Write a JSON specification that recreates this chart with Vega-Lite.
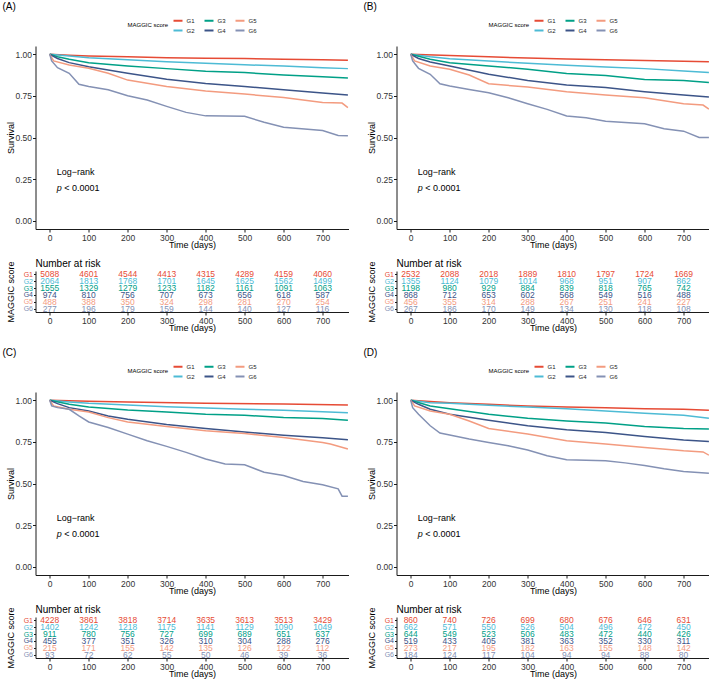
{
"$schema":"https://vega.github.io/schema/vega-lite/v6.json",
"padding":{"left":2.5,"top":2,"right":0,"bottom":0},
"datasets":{
"km":[
{"p":"A","g":"G1","t":0,"s":1},{"p":"A","g":"G1","t":50,"s":0.995},{"p":"A","g":"G1","t":100,"s":0.99},{"p":"A","g":"G1","t":200,"s":0.985},{"p":"A","g":"G1","t":300,"s":0.98},{"p":"A","g":"G1","t":400,"s":0.977},{"p":"A","g":"G1","t":500,"s":0.975},{"p":"A","g":"G1","t":600,"s":0.971},{"p":"A","g":"G1","t":700,"s":0.968},{"p":"A","g":"G1","t":765,"s":0.965},
{"p":"A","g":"G2","t":0,"s":1},{"p":"A","g":"G2","t":50,"s":0.99},{"p":"A","g":"G2","t":100,"s":0.98},{"p":"A","g":"G2","t":200,"s":0.968},{"p":"A","g":"G2","t":300,"s":0.956},{"p":"A","g":"G2","t":400,"s":0.946},{"p":"A","g":"G2","t":500,"s":0.937},{"p":"A","g":"G2","t":600,"s":0.93},{"p":"A","g":"G2","t":700,"s":0.92},{"p":"A","g":"G2","t":765,"s":0.914},
{"p":"A","g":"G3","t":0,"s":1},{"p":"A","g":"G3","t":20,"s":0.985},{"p":"A","g":"G3","t":50,"s":0.97},{"p":"A","g":"G3","t":100,"s":0.95},{"p":"A","g":"G3","t":200,"s":0.93},{"p":"A","g":"G3","t":300,"s":0.914},{"p":"A","g":"G3","t":400,"s":0.898},{"p":"A","g":"G3","t":500,"s":0.89},{"p":"A","g":"G3","t":600,"s":0.875},{"p":"A","g":"G3","t":700,"s":0.865},{"p":"A","g":"G3","t":765,"s":0.857},
{"p":"A","g":"G4","t":0,"s":1},{"p":"A","g":"G4","t":20,"s":0.975},{"p":"A","g":"G4","t":50,"s":0.95},{"p":"A","g":"G4","t":100,"s":0.925},{"p":"A","g":"G4","t":200,"s":0.886},{"p":"A","g":"G4","t":300,"s":0.85},{"p":"A","g":"G4","t":400,"s":0.825},{"p":"A","g":"G4","t":500,"s":0.807},{"p":"A","g":"G4","t":600,"s":0.787},{"p":"A","g":"G4","t":700,"s":0.767},{"p":"A","g":"G4","t":765,"s":0.755},
{"p":"A","g":"G5","t":0,"s":1},{"p":"A","g":"G5","t":10,"s":0.96},{"p":"A","g":"G5","t":50,"s":0.936},{"p":"A","g":"G5","t":100,"s":0.916},{"p":"A","g":"G5","t":150,"s":0.886},{"p":"A","g":"G5","t":200,"s":0.845},{"p":"A","g":"G5","t":300,"s":0.807},{"p":"A","g":"G5","t":400,"s":0.78},{"p":"A","g":"G5","t":500,"s":0.761},{"p":"A","g":"G5","t":600,"s":0.741},{"p":"A","g":"G5","t":700,"s":0.711},{"p":"A","g":"G5","t":750,"s":0.707},{"p":"A","g":"G5","t":765,"s":0.68},
{"p":"A","g":"G6","t":0,"s":1},{"p":"A","g":"G6","t":5,"s":0.96},{"p":"A","g":"G6","t":20,"s":0.92},{"p":"A","g":"G6","t":50,"s":0.886},{"p":"A","g":"G6","t":75,"s":0.82},{"p":"A","g":"G6","t":100,"s":0.807},{"p":"A","g":"G6","t":150,"s":0.787},{"p":"A","g":"G6","t":200,"s":0.751},{"p":"A","g":"G6","t":250,"s":0.725},{"p":"A","g":"G6","t":300,"s":0.687},{"p":"A","g":"G6","t":350,"s":0.651},{"p":"A","g":"G6","t":400,"s":0.63},{"p":"A","g":"G6","t":500,"s":0.627},{"p":"A","g":"G6","t":550,"s":0.592},{"p":"A","g":"G6","t":600,"s":0.562},{"p":"A","g":"G6","t":700,"s":0.542},{"p":"A","g":"G6","t":740,"s":0.512},{"p":"A","g":"G6","t":765,"s":0.51},
{"p":"B","g":"G1","t":0,"s":1},{"p":"B","g":"G1","t":100,"s":0.993},{"p":"B","g":"G1","t":200,"s":0.985},{"p":"B","g":"G1","t":300,"s":0.978},{"p":"B","g":"G1","t":400,"s":0.972},{"p":"B","g":"G1","t":500,"s":0.968},{"p":"B","g":"G1","t":600,"s":0.963},{"p":"B","g":"G1","t":700,"s":0.958},{"p":"B","g":"G1","t":765,"s":0.955},
{"p":"B","g":"G2","t":0,"s":1},{"p":"B","g":"G2","t":50,"s":0.985},{"p":"B","g":"G2","t":100,"s":0.974},{"p":"B","g":"G2","t":200,"s":0.96},{"p":"B","g":"G2","t":300,"s":0.946},{"p":"B","g":"G2","t":400,"s":0.934},{"p":"B","g":"G2","t":500,"s":0.924},{"p":"B","g":"G2","t":600,"s":0.914},{"p":"B","g":"G2","t":700,"s":0.9},{"p":"B","g":"G2","t":765,"s":0.89},
{"p":"B","g":"G3","t":0,"s":1},{"p":"B","g":"G3","t":50,"s":0.97},{"p":"B","g":"G3","t":100,"s":0.95},{"p":"B","g":"G3","t":200,"s":0.93},{"p":"B","g":"G3","t":300,"s":0.91},{"p":"B","g":"G3","t":400,"s":0.884},{"p":"B","g":"G3","t":500,"s":0.873},{"p":"B","g":"G3","t":600,"s":0.849},{"p":"B","g":"G3","t":700,"s":0.843},{"p":"B","g":"G3","t":765,"s":0.83},
{"p":"B","g":"G4","t":0,"s":1},{"p":"B","g":"G4","t":20,"s":0.975},{"p":"B","g":"G4","t":50,"s":0.954},{"p":"B","g":"G4","t":100,"s":0.93},{"p":"B","g":"G4","t":200,"s":0.88},{"p":"B","g":"G4","t":300,"s":0.843},{"p":"B","g":"G4","t":400,"s":0.815},{"p":"B","g":"G4","t":500,"s":0.8},{"p":"B","g":"G4","t":600,"s":0.775},{"p":"B","g":"G4","t":700,"s":0.755},{"p":"B","g":"G4","t":765,"s":0.743},
{"p":"B","g":"G5","t":0,"s":1},{"p":"B","g":"G5","t":10,"s":0.96},{"p":"B","g":"G5","t":50,"s":0.93},{"p":"B","g":"G5","t":100,"s":0.91},{"p":"B","g":"G5","t":150,"s":0.876},{"p":"B","g":"G5","t":200,"s":0.823},{"p":"B","g":"G5","t":300,"s":0.803},{"p":"B","g":"G5","t":400,"s":0.775},{"p":"B","g":"G5","t":500,"s":0.755},{"p":"B","g":"G5","t":600,"s":0.739},{"p":"B","g":"G5","t":700,"s":0.703},{"p":"B","g":"G5","t":750,"s":0.695},{"p":"B","g":"G5","t":765,"s":0.67},
{"p":"B","g":"G6","t":0,"s":1},{"p":"B","g":"G6","t":5,"s":0.96},{"p":"B","g":"G6","t":20,"s":0.916},{"p":"B","g":"G6","t":50,"s":0.88},{"p":"B","g":"G6","t":75,"s":0.823},{"p":"B","g":"G6","t":100,"s":0.809},{"p":"B","g":"G6","t":150,"s":0.789},{"p":"B","g":"G6","t":200,"s":0.769},{"p":"B","g":"G6","t":250,"s":0.739},{"p":"B","g":"G6","t":300,"s":0.703},{"p":"B","g":"G6","t":350,"s":0.669},{"p":"B","g":"G6","t":400,"s":0.629},{"p":"B","g":"G6","t":450,"s":0.618},{"p":"B","g":"G6","t":500,"s":0.598},{"p":"B","g":"G6","t":600,"s":0.582},{"p":"B","g":"G6","t":650,"s":0.552},{"p":"B","g":"G6","t":700,"s":0.538},{"p":"B","g":"G6","t":740,"s":0.5},{"p":"B","g":"G6","t":765,"s":0.5},
{"p":"C","g":"G1","t":0,"s":1},{"p":"C","g":"G1","t":100,"s":0.995},{"p":"C","g":"G1","t":200,"s":0.99},{"p":"C","g":"G1","t":400,"s":0.983},{"p":"C","g":"G1","t":600,"s":0.978},{"p":"C","g":"G1","t":765,"s":0.972},
{"p":"C","g":"G2","t":0,"s":1},{"p":"C","g":"G2","t":50,"s":0.99},{"p":"C","g":"G2","t":100,"s":0.982},{"p":"C","g":"G2","t":200,"s":0.972},{"p":"C","g":"G2","t":300,"s":0.962},{"p":"C","g":"G2","t":400,"s":0.954},{"p":"C","g":"G2","t":500,"s":0.946},{"p":"C","g":"G2","t":600,"s":0.94},{"p":"C","g":"G2","t":700,"s":0.932},{"p":"C","g":"G2","t":765,"s":0.926},
{"p":"C","g":"G3","t":0,"s":1},{"p":"C","g":"G3","t":50,"s":0.976},{"p":"C","g":"G3","t":100,"s":0.96},{"p":"C","g":"G3","t":200,"s":0.942},{"p":"C","g":"G3","t":300,"s":0.93},{"p":"C","g":"G3","t":400,"s":0.916},{"p":"C","g":"G3","t":500,"s":0.91},{"p":"C","g":"G3","t":600,"s":0.896},{"p":"C","g":"G3","t":700,"s":0.89},{"p":"C","g":"G3","t":765,"s":0.88},
{"p":"C","g":"G4","t":0,"s":1},{"p":"C","g":"G4","t":20,"s":0.98},{"p":"C","g":"G4","t":50,"s":0.956},{"p":"C","g":"G4","t":100,"s":0.936},{"p":"C","g":"G4","t":150,"s":0.906},{"p":"C","g":"G4","t":200,"s":0.886},{"p":"C","g":"G4","t":300,"s":0.855},{"p":"C","g":"G4","t":400,"s":0.83},{"p":"C","g":"G4","t":500,"s":0.81},{"p":"C","g":"G4","t":600,"s":0.79},{"p":"C","g":"G4","t":700,"s":0.775},{"p":"C","g":"G4","t":765,"s":0.763},
{"p":"C","g":"G5","t":0,"s":1},{"p":"C","g":"G5","t":10,"s":0.966},{"p":"C","g":"G5","t":50,"s":0.946},{"p":"C","g":"G5","t":100,"s":0.93},{"p":"C","g":"G5","t":150,"s":0.896},{"p":"C","g":"G5","t":200,"s":0.87},{"p":"C","g":"G5","t":300,"s":0.843},{"p":"C","g":"G5","t":400,"s":0.817},{"p":"C","g":"G5","t":500,"s":0.8},{"p":"C","g":"G5","t":600,"s":0.777},{"p":"C","g":"G5","t":700,"s":0.747},{"p":"C","g":"G5","t":720,"s":0.737},{"p":"C","g":"G5","t":765,"s":0.707},
{"p":"C","g":"G6","t":0,"s":1},{"p":"C","g":"G6","t":5,"s":0.966},{"p":"C","g":"G6","t":20,"s":0.956},{"p":"C","g":"G6","t":50,"s":0.946},{"p":"C","g":"G6","t":75,"s":0.906},{"p":"C","g":"G6","t":100,"s":0.87},{"p":"C","g":"G6","t":150,"s":0.837},{"p":"C","g":"G6","t":200,"s":0.797},{"p":"C","g":"G6","t":250,"s":0.757},{"p":"C","g":"G6","t":300,"s":0.723},{"p":"C","g":"G6","t":350,"s":0.687},{"p":"C","g":"G6","t":400,"s":0.647},{"p":"C","g":"G6","t":450,"s":0.617},{"p":"C","g":"G6","t":500,"s":0.612},{"p":"C","g":"G6","t":550,"s":0.568},{"p":"C","g":"G6","t":600,"s":0.548},{"p":"C","g":"G6","t":650,"s":0.512},{"p":"C","g":"G6","t":700,"s":0.492},{"p":"C","g":"G6","t":740,"s":0.468},{"p":"C","g":"G6","t":750,"s":0.424},{"p":"C","g":"G6","t":765,"s":0.424},
{"p":"D","g":"G1","t":0,"s":1},{"p":"D","g":"G1","t":100,"s":0.986},{"p":"D","g":"G1","t":200,"s":0.976},{"p":"D","g":"G1","t":300,"s":0.966},{"p":"D","g":"G1","t":400,"s":0.96},{"p":"D","g":"G1","t":500,"s":0.956},{"p":"D","g":"G1","t":600,"s":0.95},{"p":"D","g":"G1","t":700,"s":0.946},{"p":"D","g":"G1","t":765,"s":0.94},
{"p":"D","g":"G2","t":0,"s":1},{"p":"D","g":"G2","t":50,"s":0.986},{"p":"D","g":"G2","t":100,"s":0.982},{"p":"D","g":"G2","t":200,"s":0.97},{"p":"D","g":"G2","t":300,"s":0.96},{"p":"D","g":"G2","t":400,"s":0.95},{"p":"D","g":"G2","t":500,"s":0.936},{"p":"D","g":"G2","t":600,"s":0.922},{"p":"D","g":"G2","t":700,"s":0.91},{"p":"D","g":"G2","t":765,"s":0.892},
{"p":"D","g":"G3","t":0,"s":1},{"p":"D","g":"G3","t":50,"s":0.966},{"p":"D","g":"G3","t":100,"s":0.95},{"p":"D","g":"G3","t":200,"s":0.916},{"p":"D","g":"G3","t":300,"s":0.892},{"p":"D","g":"G3","t":400,"s":0.876},{"p":"D","g":"G3","t":500,"s":0.863},{"p":"D","g":"G3","t":600,"s":0.843},{"p":"D","g":"G3","t":700,"s":0.831},{"p":"D","g":"G3","t":765,"s":0.827},
{"p":"D","g":"G4","t":0,"s":1},{"p":"D","g":"G4","t":20,"s":0.976},{"p":"D","g":"G4","t":50,"s":0.946},{"p":"D","g":"G4","t":100,"s":0.916},{"p":"D","g":"G4","t":200,"s":0.88},{"p":"D","g":"G4","t":300,"s":0.847},{"p":"D","g":"G4","t":400,"s":0.823},{"p":"D","g":"G4","t":500,"s":0.807},{"p":"D","g":"G4","t":600,"s":0.783},{"p":"D","g":"G4","t":700,"s":0.761},{"p":"D","g":"G4","t":765,"s":0.753},
{"p":"D","g":"G5","t":0,"s":1},{"p":"D","g":"G5","t":10,"s":0.966},{"p":"D","g":"G5","t":50,"s":0.936},{"p":"D","g":"G5","t":100,"s":0.916},{"p":"D","g":"G5","t":150,"s":0.876},{"p":"D","g":"G5","t":200,"s":0.831},{"p":"D","g":"G5","t":300,"s":0.797},{"p":"D","g":"G5","t":400,"s":0.757},{"p":"D","g":"G5","t":500,"s":0.737},{"p":"D","g":"G5","t":600,"s":0.717},{"p":"D","g":"G5","t":700,"s":0.697},{"p":"D","g":"G5","t":750,"s":0.69},{"p":"D","g":"G5","t":765,"s":0.67},
{"p":"D","g":"G6","t":0,"s":1},{"p":"D","g":"G6","t":5,"s":0.956},{"p":"D","g":"G6","t":20,"s":0.916},{"p":"D","g":"G6","t":50,"s":0.847},{"p":"D","g":"G6","t":75,"s":0.803},{"p":"D","g":"G6","t":100,"s":0.791},{"p":"D","g":"G6","t":150,"s":0.767},{"p":"D","g":"G6","t":200,"s":0.747},{"p":"D","g":"G6","t":250,"s":0.727},{"p":"D","g":"G6","t":300,"s":0.701},{"p":"D","g":"G6","t":350,"s":0.667},{"p":"D","g":"G6","t":400,"s":0.643},{"p":"D","g":"G6","t":500,"s":0.637},{"p":"D","g":"G6","t":550,"s":0.624},{"p":"D","g":"G6","t":600,"s":0.608},{"p":"D","g":"G6","t":650,"s":0.588},{"p":"D","g":"G6","t":700,"s":0.572},{"p":"D","g":"G6","t":765,"s":0.562}
],
"risk":[
{"p":"A","g":"G1","t":0,"n":5088},{"p":"A","g":"G1","t":100,"n":4601},{"p":"A","g":"G1","t":200,"n":4544},{"p":"A","g":"G1","t":300,"n":4413},{"p":"A","g":"G1","t":400,"n":4315},{"p":"A","g":"G1","t":500,"n":4289},{"p":"A","g":"G1","t":600,"n":4159},{"p":"A","g":"G1","t":700,"n":4060},
{"p":"A","g":"G2","t":0,"n":2064},{"p":"A","g":"G2","t":100,"n":1813},{"p":"A","g":"G2","t":200,"n":1768},{"p":"A","g":"G2","t":300,"n":1701},{"p":"A","g":"G2","t":400,"n":1645},{"p":"A","g":"G2","t":500,"n":1625},{"p":"A","g":"G2","t":600,"n":1562},{"p":"A","g":"G2","t":700,"n":1499},
{"p":"A","g":"G3","t":0,"n":1555},{"p":"A","g":"G3","t":100,"n":1329},{"p":"A","g":"G3","t":200,"n":1279},{"p":"A","g":"G3","t":300,"n":1233},{"p":"A","g":"G3","t":400,"n":1182},{"p":"A","g":"G3","t":500,"n":1161},{"p":"A","g":"G3","t":600,"n":1091},{"p":"A","g":"G3","t":700,"n":1063},
{"p":"A","g":"G4","t":0,"n":974},{"p":"A","g":"G4","t":100,"n":810},{"p":"A","g":"G4","t":200,"n":756},{"p":"A","g":"G4","t":300,"n":707},{"p":"A","g":"G4","t":400,"n":673},{"p":"A","g":"G4","t":500,"n":656},{"p":"A","g":"G4","t":600,"n":618},{"p":"A","g":"G4","t":700,"n":587},
{"p":"A","g":"G5","t":0,"n":488},{"p":"A","g":"G5","t":100,"n":388},{"p":"A","g":"G5","t":200,"n":350},{"p":"A","g":"G5","t":300,"n":324},{"p":"A","g":"G5","t":400,"n":298},{"p":"A","g":"G5","t":500,"n":281},{"p":"A","g":"G5","t":600,"n":270},{"p":"A","g":"G5","t":700,"n":254},
{"p":"A","g":"G6","t":0,"n":277},{"p":"A","g":"G6","t":100,"n":196},{"p":"A","g":"G6","t":200,"n":179},{"p":"A","g":"G6","t":300,"n":159},{"p":"A","g":"G6","t":400,"n":144},{"p":"A","g":"G6","t":500,"n":140},{"p":"A","g":"G6","t":600,"n":127},{"p":"A","g":"G6","t":700,"n":116},
{"p":"B","g":"G1","t":0,"n":2532},{"p":"B","g":"G1","t":100,"n":2088},{"p":"B","g":"G1","t":200,"n":2018},{"p":"B","g":"G1","t":300,"n":1889},{"p":"B","g":"G1","t":400,"n":1810},{"p":"B","g":"G1","t":500,"n":1797},{"p":"B","g":"G1","t":600,"n":1724},{"p":"B","g":"G1","t":700,"n":1669},
{"p":"B","g":"G2","t":0,"n":1355},{"p":"B","g":"G2","t":100,"n":1124},{"p":"B","g":"G2","t":200,"n":1079},{"p":"B","g":"G2","t":300,"n":1014},{"p":"B","g":"G2","t":400,"n":968},{"p":"B","g":"G2","t":500,"n":951},{"p":"B","g":"G2","t":600,"n":907},{"p":"B","g":"G2","t":700,"n":862},
{"p":"B","g":"G3","t":0,"n":1198},{"p":"B","g":"G3","t":100,"n":980},{"p":"B","g":"G3","t":200,"n":929},{"p":"B","g":"G3","t":300,"n":884},{"p":"B","g":"G3","t":400,"n":839},{"p":"B","g":"G3","t":500,"n":818},{"p":"B","g":"G3","t":600,"n":765},{"p":"B","g":"G3","t":700,"n":742},
{"p":"B","g":"G4","t":0,"n":868},{"p":"B","g":"G4","t":100,"n":712},{"p":"B","g":"G4","t":200,"n":653},{"p":"B","g":"G4","t":300,"n":602},{"p":"B","g":"G4","t":400,"n":568},{"p":"B","g":"G4","t":500,"n":549},{"p":"B","g":"G4","t":600,"n":516},{"p":"B","g":"G4","t":700,"n":488},
{"p":"B","g":"G5","t":0,"n":456},{"p":"B","g":"G5","t":100,"n":355},{"p":"B","g":"G5","t":200,"n":314},{"p":"B","g":"G5","t":300,"n":288},{"p":"B","g":"G5","t":400,"n":267},{"p":"B","g":"G5","t":500,"n":251},{"p":"B","g":"G5","t":600,"n":241},{"p":"B","g":"G5","t":700,"n":227},
{"p":"B","g":"G6","t":0,"n":267},{"p":"B","g":"G6","t":100,"n":186},{"p":"B","g":"G6","t":200,"n":170},{"p":"B","g":"G6","t":300,"n":149},{"p":"B","g":"G6","t":400,"n":134},{"p":"B","g":"G6","t":500,"n":130},{"p":"B","g":"G6","t":600,"n":118},{"p":"B","g":"G6","t":700,"n":108},
{"p":"C","g":"G1","t":0,"n":4228},{"p":"C","g":"G1","t":100,"n":3861},{"p":"C","g":"G1","t":200,"n":3818},{"p":"C","g":"G1","t":300,"n":3714},{"p":"C","g":"G1","t":400,"n":3635},{"p":"C","g":"G1","t":500,"n":3613},{"p":"C","g":"G1","t":600,"n":3513},{"p":"C","g":"G1","t":700,"n":3429},
{"p":"C","g":"G2","t":0,"n":1402},{"p":"C","g":"G2","t":100,"n":1242},{"p":"C","g":"G2","t":200,"n":1218},{"p":"C","g":"G2","t":300,"n":1175},{"p":"C","g":"G2","t":400,"n":1141},{"p":"C","g":"G2","t":500,"n":1129},{"p":"C","g":"G2","t":600,"n":1090},{"p":"C","g":"G2","t":700,"n":1049},
{"p":"C","g":"G3","t":0,"n":911},{"p":"C","g":"G3","t":100,"n":780},{"p":"C","g":"G3","t":200,"n":756},{"p":"C","g":"G3","t":300,"n":727},{"p":"C","g":"G3","t":400,"n":699},{"p":"C","g":"G3","t":500,"n":689},{"p":"C","g":"G3","t":600,"n":651},{"p":"C","g":"G3","t":700,"n":637},
{"p":"C","g":"G4","t":0,"n":455},{"p":"C","g":"G4","t":100,"n":377},{"p":"C","g":"G4","t":200,"n":351},{"p":"C","g":"G4","t":300,"n":326},{"p":"C","g":"G4","t":400,"n":310},{"p":"C","g":"G4","t":500,"n":304},{"p":"C","g":"G4","t":600,"n":288},{"p":"C","g":"G4","t":700,"n":276},
{"p":"C","g":"G5","t":0,"n":215},{"p":"C","g":"G5","t":100,"n":171},{"p":"C","g":"G5","t":200,"n":155},{"p":"C","g":"G5","t":300,"n":142},{"p":"C","g":"G5","t":400,"n":135},{"p":"C","g":"G5","t":500,"n":126},{"p":"C","g":"G5","t":600,"n":122},{"p":"C","g":"G5","t":700,"n":112},
{"p":"C","g":"G6","t":0,"n":93},{"p":"C","g":"G6","t":100,"n":72},{"p":"C","g":"G6","t":200,"n":62},{"p":"C","g":"G6","t":300,"n":55},{"p":"C","g":"G6","t":400,"n":50},{"p":"C","g":"G6","t":500,"n":46},{"p":"C","g":"G6","t":600,"n":39},{"p":"C","g":"G6","t":700,"n":36},
{"p":"D","g":"G1","t":0,"n":860},{"p":"D","g":"G1","t":100,"n":740},{"p":"D","g":"G1","t":200,"n":726},{"p":"D","g":"G1","t":300,"n":699},{"p":"D","g":"G1","t":400,"n":680},{"p":"D","g":"G1","t":500,"n":676},{"p":"D","g":"G1","t":600,"n":646},{"p":"D","g":"G1","t":700,"n":631},
{"p":"D","g":"G2","t":0,"n":662},{"p":"D","g":"G2","t":100,"n":571},{"p":"D","g":"G2","t":200,"n":550},{"p":"D","g":"G2","t":300,"n":526},{"p":"D","g":"G2","t":400,"n":504},{"p":"D","g":"G2","t":500,"n":496},{"p":"D","g":"G2","t":600,"n":472},{"p":"D","g":"G2","t":700,"n":450},
{"p":"D","g":"G3","t":0,"n":644},{"p":"D","g":"G3","t":100,"n":549},{"p":"D","g":"G3","t":200,"n":523},{"p":"D","g":"G3","t":300,"n":506},{"p":"D","g":"G3","t":400,"n":483},{"p":"D","g":"G3","t":500,"n":472},{"p":"D","g":"G3","t":600,"n":440},{"p":"D","g":"G3","t":700,"n":426},
{"p":"D","g":"G4","t":0,"n":519},{"p":"D","g":"G4","t":100,"n":433},{"p":"D","g":"G4","t":200,"n":405},{"p":"D","g":"G4","t":300,"n":381},{"p":"D","g":"G4","t":400,"n":363},{"p":"D","g":"G4","t":500,"n":352},{"p":"D","g":"G4","t":600,"n":330},{"p":"D","g":"G4","t":700,"n":311},
{"p":"D","g":"G5","t":0,"n":273},{"p":"D","g":"G5","t":100,"n":217},{"p":"D","g":"G5","t":200,"n":195},{"p":"D","g":"G5","t":300,"n":182},{"p":"D","g":"G5","t":400,"n":163},{"p":"D","g":"G5","t":500,"n":155},{"p":"D","g":"G5","t":600,"n":148},{"p":"D","g":"G5","t":700,"n":142},
{"p":"D","g":"G6","t":0,"n":184},{"p":"D","g":"G6","t":100,"n":124},{"p":"D","g":"G6","t":200,"n":117},{"p":"D","g":"G6","t":300,"n":104},{"p":"D","g":"G6","t":400,"n":94},{"p":"D","g":"G6","t":500,"n":94},{"p":"D","g":"G6","t":600,"n":88},{"p":"D","g":"G6","t":700,"n":80}
],
"ann1":[{"t":18,"s":0.29,"label":"Log−rank"}],
"ann2":[{"t":18,"s":0.195,"label":"p"}],
"ann3":[{"t":18,"s":0.195,"label":"< 0.0001"}]
},
"spacing":15,
"resolve":{"scale":{"color":"independent","x":"independent","y":"independent"},"legend":{"color":"independent"}},
"vconcat":[
{"hconcat":[
{"vconcat":[
{"width":313,"height":183,"title":{"text":"(A)","anchor":"start","frame":"group","dx":-33,"offset":3,"fontSize":10},
"layer":[
{"data":{"name":"km"},"transform":[{"filter":"datum.p==='A'"}],"mark":{"type":"line","strokeWidth":1.5},
"encoding":{"x":{"field":"t","type":"quantitative","title":"Time (days)","scale":{"domain":[-36.5,766.5],"nice":false,"zero":false},"axis":{"values":[0,100,200,300,400,500,600,700]}},
"y":{"field":"s","type":"quantitative","title":"Survival","scale":{"domain":[-0.05,1.05],"nice":false,"zero":false},"axis":{"values":[0,0.25,0.5,0.75,1],"format":".2f","minExtent":20,"maxExtent":20,"titlePadding":0}},
"color":{"field":"g","type":"nominal","scale":{"domain":["G1","G3","G5","G2","G4","G6"],"range":["#E64B35","#00A087","#F39B7F","#4DBBD5","#3C5488","#8491B4"]},"legend":{"title":"MAGGIC score"}}}},
{"data":{"name":"ann1"},"mark":{"type":"text","align":"left","baseline":"middle","fontSize":9,"color":"#000"},"encoding":{"x":{"field":"t","type":"quantitative","title":"Time (days)"},"y":{"field":"s","type":"quantitative","title":"Survival"},"text":{"field":"label"}}},
{"data":{"name":"ann2"},"mark":{"type":"text","align":"left","baseline":"middle","fontSize":9,"fontStyle":"italic","color":"#000"},"encoding":{"x":{"field":"t","type":"quantitative","title":"Time (days)"},"y":{"field":"s","type":"quantitative","title":"Survival"},"text":{"field":"label"}}},
{"data":{"name":"ann3"},"mark":{"type":"text","align":"left","baseline":"middle","fontSize":9,"dx":7.5,"color":"#000"},"encoding":{"x":{"field":"t","type":"quantitative","title":"Time (days)"},"y":{"field":"s","type":"quantitative","title":"Survival"},"text":{"field":"label"}}}
]},
{"width":313,"height":41,"title":{"text":"Number at risk","anchor":"start","frame":"group","offset":-8,"fontSize":10},
"data":{"name":"risk"},"transform":[{"filter":"datum.p==='A'"}],"mark":{"type":"text","fontSize":8.5,"baseline":"middle"},
"encoding":{"x":{"field":"t","type":"quantitative","title":"Time (days)","scale":{"domain":[-36.5,766.5],"nice":false,"zero":false},"axis":{"values":[0,100,200,300,400,500,600,700]}},
"y":{"field":"g","type":"nominal","title":"MAGGIC score","scale":{"type":"point","domain":["G1","G2","G3","G4","G5","G6"],"padding":0.5},"axis":{"labelFontSize":7,"tickSize":2,"minExtent":20,"maxExtent":20,"titlePadding":0,"labelColor":{"condition":[{"test":"datum.value==='G1'","value":"#E64B35"},{"test":"datum.value==='G2'","value":"#4DBBD5"},{"test":"datum.value==='G3'","value":"#00A087"},{"test":"datum.value==='G4'","value":"#3C5488"},{"test":"datum.value==='G5'","value":"#F39B7F"}],"value":"#8491B4"}}},
"text":{"field":"n","type":"quantitative","format":"d"},
"color":{"field":"g","type":"nominal","legend":null,"scale":{"domain":["G1","G3","G5","G2","G4","G6"],"range":["#E64B35","#00A087","#F39B7F","#4DBBD5","#3C5488","#8491B4"]}}}}
],"bounds":"flush","spacing":42,"resolve":{"scale":{"color":"independent","x":"independent","y":"independent"},"legend":{"color":"independent"}}},
{"vconcat":[
{"width":313,"height":183,"title":{"text":"(B)","anchor":"start","frame":"group","dx":-33,"offset":3,"fontSize":10},
"layer":[
{"data":{"name":"km"},"transform":[{"filter":"datum.p==='B'"}],"mark":{"type":"line","strokeWidth":1.5},
"encoding":{"x":{"field":"t","type":"quantitative","title":"Time (days)","scale":{"domain":[-36.5,766.5],"nice":false,"zero":false},"axis":{"values":[0,100,200,300,400,500,600,700]}},
"y":{"field":"s","type":"quantitative","title":"Survival","scale":{"domain":[-0.05,1.05],"nice":false,"zero":false},"axis":{"values":[0,0.25,0.5,0.75,1],"format":".2f","minExtent":20,"maxExtent":20,"titlePadding":0}},
"color":{"field":"g","type":"nominal","scale":{"domain":["G1","G3","G5","G2","G4","G6"],"range":["#E64B35","#00A087","#F39B7F","#4DBBD5","#3C5488","#8491B4"]},"legend":{"title":"MAGGIC score"}}}},
{"data":{"name":"ann1"},"mark":{"type":"text","align":"left","baseline":"middle","fontSize":9,"color":"#000"},"encoding":{"x":{"field":"t","type":"quantitative","title":"Time (days)"},"y":{"field":"s","type":"quantitative","title":"Survival"},"text":{"field":"label"}}},
{"data":{"name":"ann2"},"mark":{"type":"text","align":"left","baseline":"middle","fontSize":9,"fontStyle":"italic","color":"#000"},"encoding":{"x":{"field":"t","type":"quantitative","title":"Time (days)"},"y":{"field":"s","type":"quantitative","title":"Survival"},"text":{"field":"label"}}},
{"data":{"name":"ann3"},"mark":{"type":"text","align":"left","baseline":"middle","fontSize":9,"dx":7.5,"color":"#000"},"encoding":{"x":{"field":"t","type":"quantitative","title":"Time (days)"},"y":{"field":"s","type":"quantitative","title":"Survival"},"text":{"field":"label"}}}
]},
{"width":313,"height":41,"title":{"text":"Number at risk","anchor":"start","frame":"group","offset":-8,"fontSize":10},
"data":{"name":"risk"},"transform":[{"filter":"datum.p==='B'"}],"mark":{"type":"text","fontSize":8.5,"baseline":"middle"},
"encoding":{"x":{"field":"t","type":"quantitative","title":"Time (days)","scale":{"domain":[-36.5,766.5],"nice":false,"zero":false},"axis":{"values":[0,100,200,300,400,500,600,700]}},
"y":{"field":"g","type":"nominal","title":"MAGGIC score","scale":{"type":"point","domain":["G1","G2","G3","G4","G5","G6"],"padding":0.5},"axis":{"labelFontSize":7,"tickSize":2,"minExtent":20,"maxExtent":20,"titlePadding":0,"labelColor":{"condition":[{"test":"datum.value==='G1'","value":"#E64B35"},{"test":"datum.value==='G2'","value":"#4DBBD5"},{"test":"datum.value==='G3'","value":"#00A087"},{"test":"datum.value==='G4'","value":"#3C5488"},{"test":"datum.value==='G5'","value":"#F39B7F"}],"value":"#8491B4"}}},
"text":{"field":"n","type":"quantitative","format":"d"},
"color":{"field":"g","type":"nominal","legend":null,"scale":{"domain":["G1","G3","G5","G2","G4","G6"],"range":["#E64B35","#00A087","#F39B7F","#4DBBD5","#3C5488","#8491B4"]}}}}
],"bounds":"flush","spacing":42,"resolve":{"scale":{"color":"independent","x":"independent","y":"independent"},"legend":{"color":"independent"}}}
],"spacing":12,"resolve":{"scale":{"color":"independent","x":"independent","y":"independent"},"legend":{"color":"independent"}}},
{"hconcat":[
{"vconcat":[
{"width":313,"height":183,"title":{"text":"(C)","anchor":"start","frame":"group","dx":-33,"offset":3,"fontSize":10},
"layer":[
{"data":{"name":"km"},"transform":[{"filter":"datum.p==='C'"}],"mark":{"type":"line","strokeWidth":1.5},
"encoding":{"x":{"field":"t","type":"quantitative","title":"Time (days)","scale":{"domain":[-36.5,766.5],"nice":false,"zero":false},"axis":{"values":[0,100,200,300,400,500,600,700]}},
"y":{"field":"s","type":"quantitative","title":"Survival","scale":{"domain":[-0.05,1.05],"nice":false,"zero":false},"axis":{"values":[0,0.25,0.5,0.75,1],"format":".2f","minExtent":20,"maxExtent":20,"titlePadding":0}},
"color":{"field":"g","type":"nominal","scale":{"domain":["G1","G3","G5","G2","G4","G6"],"range":["#E64B35","#00A087","#F39B7F","#4DBBD5","#3C5488","#8491B4"]},"legend":{"title":"MAGGIC score"}}}},
{"data":{"name":"ann1"},"mark":{"type":"text","align":"left","baseline":"middle","fontSize":9,"color":"#000"},"encoding":{"x":{"field":"t","type":"quantitative","title":"Time (days)"},"y":{"field":"s","type":"quantitative","title":"Survival"},"text":{"field":"label"}}},
{"data":{"name":"ann2"},"mark":{"type":"text","align":"left","baseline":"middle","fontSize":9,"fontStyle":"italic","color":"#000"},"encoding":{"x":{"field":"t","type":"quantitative","title":"Time (days)"},"y":{"field":"s","type":"quantitative","title":"Survival"},"text":{"field":"label"}}},
{"data":{"name":"ann3"},"mark":{"type":"text","align":"left","baseline":"middle","fontSize":9,"dx":7.5,"color":"#000"},"encoding":{"x":{"field":"t","type":"quantitative","title":"Time (days)"},"y":{"field":"s","type":"quantitative","title":"Survival"},"text":{"field":"label"}}}
]},
{"width":313,"height":41,"title":{"text":"Number at risk","anchor":"start","frame":"group","offset":-8,"fontSize":10},
"data":{"name":"risk"},"transform":[{"filter":"datum.p==='C'"}],"mark":{"type":"text","fontSize":8.5,"baseline":"middle"},
"encoding":{"x":{"field":"t","type":"quantitative","title":"Time (days)","scale":{"domain":[-36.5,766.5],"nice":false,"zero":false},"axis":{"values":[0,100,200,300,400,500,600,700]}},
"y":{"field":"g","type":"nominal","title":"MAGGIC score","scale":{"type":"point","domain":["G1","G2","G3","G4","G5","G6"],"padding":0.5},"axis":{"labelFontSize":7,"tickSize":2,"minExtent":20,"maxExtent":20,"titlePadding":0,"labelColor":{"condition":[{"test":"datum.value==='G1'","value":"#E64B35"},{"test":"datum.value==='G2'","value":"#4DBBD5"},{"test":"datum.value==='G3'","value":"#00A087"},{"test":"datum.value==='G4'","value":"#3C5488"},{"test":"datum.value==='G5'","value":"#F39B7F"}],"value":"#8491B4"}}},
"text":{"field":"n","type":"quantitative","format":"d"},
"color":{"field":"g","type":"nominal","legend":null,"scale":{"domain":["G1","G3","G5","G2","G4","G6"],"range":["#E64B35","#00A087","#F39B7F","#4DBBD5","#3C5488","#8491B4"]}}}}
],"bounds":"flush","spacing":42,"resolve":{"scale":{"color":"independent","x":"independent","y":"independent"},"legend":{"color":"independent"}}},
{"vconcat":[
{"width":313,"height":183,"title":{"text":"(D)","anchor":"start","frame":"group","dx":-33,"offset":3,"fontSize":10},
"layer":[
{"data":{"name":"km"},"transform":[{"filter":"datum.p==='D'"}],"mark":{"type":"line","strokeWidth":1.5},
"encoding":{"x":{"field":"t","type":"quantitative","title":"Time (days)","scale":{"domain":[-36.5,766.5],"nice":false,"zero":false},"axis":{"values":[0,100,200,300,400,500,600,700]}},
"y":{"field":"s","type":"quantitative","title":"Survival","scale":{"domain":[-0.05,1.05],"nice":false,"zero":false},"axis":{"values":[0,0.25,0.5,0.75,1],"format":".2f","minExtent":20,"maxExtent":20,"titlePadding":0}},
"color":{"field":"g","type":"nominal","scale":{"domain":["G1","G3","G5","G2","G4","G6"],"range":["#E64B35","#00A087","#F39B7F","#4DBBD5","#3C5488","#8491B4"]},"legend":{"title":"MAGGIC score"}}}},
{"data":{"name":"ann1"},"mark":{"type":"text","align":"left","baseline":"middle","fontSize":9,"color":"#000"},"encoding":{"x":{"field":"t","type":"quantitative","title":"Time (days)"},"y":{"field":"s","type":"quantitative","title":"Survival"},"text":{"field":"label"}}},
{"data":{"name":"ann2"},"mark":{"type":"text","align":"left","baseline":"middle","fontSize":9,"fontStyle":"italic","color":"#000"},"encoding":{"x":{"field":"t","type":"quantitative","title":"Time (days)"},"y":{"field":"s","type":"quantitative","title":"Survival"},"text":{"field":"label"}}},
{"data":{"name":"ann3"},"mark":{"type":"text","align":"left","baseline":"middle","fontSize":9,"dx":7.5,"color":"#000"},"encoding":{"x":{"field":"t","type":"quantitative","title":"Time (days)"},"y":{"field":"s","type":"quantitative","title":"Survival"},"text":{"field":"label"}}}
]},
{"width":313,"height":41,"title":{"text":"Number at risk","anchor":"start","frame":"group","offset":-8,"fontSize":10},
"data":{"name":"risk"},"transform":[{"filter":"datum.p==='D'"}],"mark":{"type":"text","fontSize":8.5,"baseline":"middle"},
"encoding":{"x":{"field":"t","type":"quantitative","title":"Time (days)","scale":{"domain":[-36.5,766.5],"nice":false,"zero":false},"axis":{"values":[0,100,200,300,400,500,600,700]}},
"y":{"field":"g","type":"nominal","title":"MAGGIC score","scale":{"type":"point","domain":["G1","G2","G3","G4","G5","G6"],"padding":0.5},"axis":{"labelFontSize":7,"tickSize":2,"minExtent":20,"maxExtent":20,"titlePadding":0,"labelColor":{"condition":[{"test":"datum.value==='G1'","value":"#E64B35"},{"test":"datum.value==='G2'","value":"#4DBBD5"},{"test":"datum.value==='G3'","value":"#00A087"},{"test":"datum.value==='G4'","value":"#3C5488"},{"test":"datum.value==='G5'","value":"#F39B7F"}],"value":"#8491B4"}}},
"text":{"field":"n","type":"quantitative","format":"d"},
"color":{"field":"g","type":"nominal","legend":null,"scale":{"domain":["G1","G3","G5","G2","G4","G6"],"range":["#E64B35","#00A087","#F39B7F","#4DBBD5","#3C5488","#8491B4"]}}}}
],"bounds":"flush","spacing":42,"resolve":{"scale":{"color":"independent","x":"independent","y":"independent"},"legend":{"color":"independent"}}}
],"spacing":12,"resolve":{"scale":{"color":"independent","x":"independent","y":"independent"},"legend":{"color":"independent"}}}
],
"config":{
"font":"Liberation Sans",
"view":{"stroke":null},
"axis":{"grid":false,"domainColor":"#1a1a1a","domainWidth":1,"tickColor":"#1a1a1a","tickSize":3,"labelColor":"#333333","labelFontSize":8.5,"titleFontSize":9,"titleFontWeight":"normal","titleColor":"#000000","labelPadding":1},
"axisX":{"titlePadding":-1},
"legend":{"orient":"top","direction":"horizontal","columns":3,"titleOrient":"left","titleAnchor":"middle","titleBaseline":"middle","titleFontSize":6,"titleFontWeight":"normal","titleColor":"#000","labelFontSize":6,"labelColor":"#222","symbolType":"stroke","symbolSize":81,"symbolStrokeWidth":2,"offset":11,"columnPadding":5,"rowPadding":-1,"labelOffset":3,"titlePadding":4,"layout":{"top":{"anchor":"middle"}}},
"title":{"fontWeight":"normal","color":"#000000"}
}
}
